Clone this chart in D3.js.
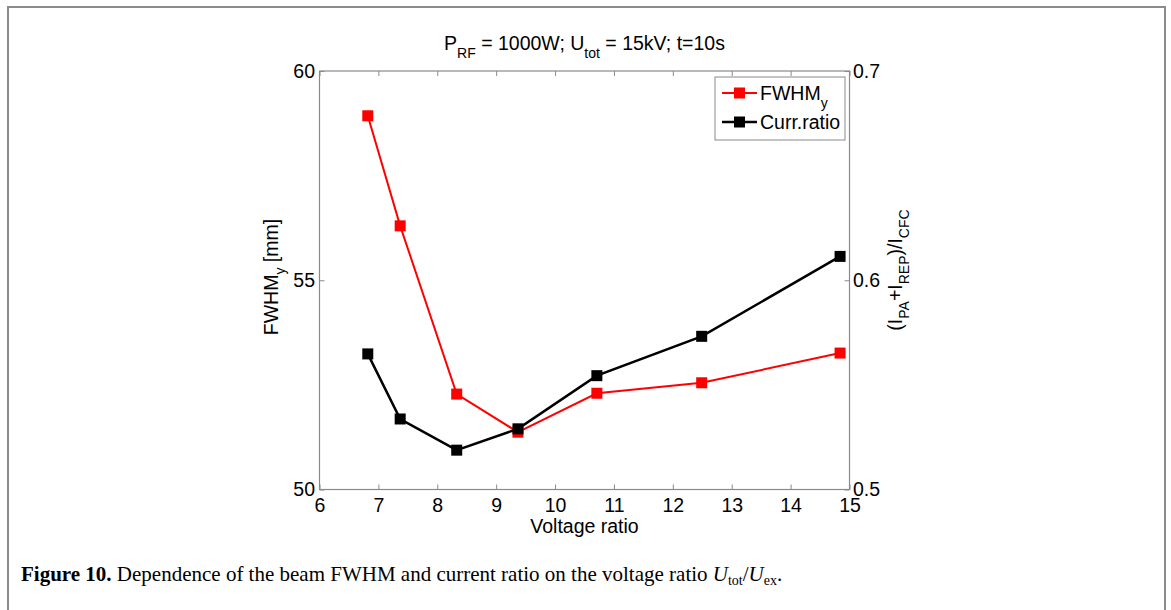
<!DOCTYPE html>
<html>
<head>
<meta charset="utf-8">
<script src="https://cdn.jsdelivr.net/npm/d3@7"></script>
<style>
  body { margin: 0; background: #fff; }
  svg { display: block; }
</style>
</head>
<body>
<div id="chart"></div>
<script>
// data
const voltageRatio = [6.82, 7.37, 8.33, 9.37, 10.71, 12.49, 14.84];
const fwhmY = [58.93, 56.30, 52.28, 51.37, 52.30, 52.55, 53.26];
const currRatio = [0.5648, 0.5337, 0.5188, 0.5290, 0.5544, 0.5732, 0.6114];

const xTicks = [6, 7, 8, 9, 10, 11, 12, 13, 14, 15];
const leftTicks = [50, 55, 60];
const rightTicks = [0.5, 0.6, 0.7];

const width = 1171;
const height = 610;
const plot = { left: 319.5, right: 849.5, top: 71, bottom: 489.5 };
const sans = 'Liberation Sans, Arial, sans-serif';
const serif = 'Liberation Serif, Times New Roman, serif';
const fs = 19.5;   // main font size
const subFs = 14;  // subscript size

const svg = d3.select('#chart').append('svg')
    .attr('width', width)
    .attr('height', height);

// page frame
svg.append('path')
    .attr('d', `M8,${height} V7 H1165 V${height}`)
    .attr('fill', 'none')
    .attr('stroke', '#8c8c8c')
    .attr('stroke-width', 2);

const x = d3.scaleLinear().domain([6, 15]).range([plot.left, plot.right]);
const yL = d3.scaleLinear().domain([50, 60]).range([plot.bottom, plot.top]);
const yR = d3.scaleLinear().domain([0.5, 0.7]).range([plot.bottom, plot.top]);

// axes, ticks pointing inward like matlab
function styleAxis(g) {
    g.select('.domain').remove();
    g.selectAll('line').attr('stroke', '#8a8a8a').attr('stroke-width', 1);
    g.selectAll('text').attr('fill', '#000').attr('font-family', sans).attr('font-size', fs);
}

svg.append('g')
    .attr('transform', `translate(0,${plot.bottom})`)
    .call(d3.axisBottom(x).tickValues(xTicks).tickSize(-5).tickPadding(9).tickFormat(d3.format('d')))
    .call(styleAxis);

svg.append('g')
    .attr('transform', `translate(0,${plot.top})`)
    .call(d3.axisTop(x).tickValues(xTicks).tickSize(-5).tickFormat(''))
    .call(styleAxis);

svg.append('g')
    .attr('transform', `translate(${plot.left},0)`)
    .call(d3.axisLeft(yL).tickValues(leftTicks).tickSize(-5).tickPadding(4.5).tickFormat(d3.format('d')))
    .call(styleAxis);

svg.append('g')
    .attr('transform', `translate(${plot.right},0)`)
    .call(d3.axisRight(yR).tickValues(rightTicks).tickSize(-5).tickPadding(3.5).tickFormat(d3.format('.1f')))
    .call(styleAxis);

// plot box
svg.append('rect')
    .attr('x', plot.left)
    .attr('y', plot.top)
    .attr('width', plot.right - plot.left)
    .attr('height', plot.bottom - plot.top)
    .attr('fill', 'none')
    .attr('stroke', '#8a8a8a')
    .attr('stroke-width', 1.2);

// series
const fwhmData = voltageRatio.map((v, i) => [v, fwhmY[i]]);
const currData = voltageRatio.map((v, i) => [v, currRatio[i]]);

const fwhmLine = d3.line().x((d) => x(d[0])).y((d) => yL(d[1]));
const currLine = d3.line().x((d) => x(d[0])).y((d) => yR(d[1]));

const markerSize = 11;

function drawSeries(data, line, yScale, color, lw) {
    svg.append('path')
        .datum(data)
        .attr('d', line)
        .attr('fill', 'none')
        .attr('stroke', color)
        .attr('stroke-width', lw);
    svg.append('g').selectAll('rect')
        .data(data)
        .enter()
        .append('rect')
        .attr('x', (d) => x(d[0]) - markerSize / 2)
        .attr('y', (d) => yScale(d[1]) - markerSize / 2)
        .attr('width', markerSize)
        .attr('height', markerSize)
        .attr('fill', color);
}

drawSeries(fwhmData, fwhmLine, yL, '#ff0000', 2);
drawSeries(currData, currLine, yR, '#000000', 2.5);

// legend
const legend = svg.append('g');
legend.append('rect')
    .attr('x', 715).attr('y', 77)
    .attr('width', 130).attr('height', 63)
    .attr('fill', '#fff')
    .attr('stroke', '#8a8a8a')
    .attr('stroke-width', 1);

const legendItems = [
    { name: 'FWHM', sub: 'y', color: '#ff0000', y: 93, lw: 2 },
    { name: 'Curr.ratio', sub: null, color: '#000000', y: 122, lw: 2.5 }
];
legendItems.forEach((item) => {
    legend.append('line')
        .attr('x1', 722).attr('x2', 757)
        .attr('y1', item.y).attr('y2', item.y)
        .attr('stroke', item.color)
        .attr('stroke-width', item.lw);
    legend.append('rect')
        .attr('x', 739.5 - markerSize / 2).attr('y', item.y - markerSize / 2)
        .attr('width', markerSize).attr('height', markerSize)
        .attr('fill', item.color);
    const t = legend.append('text')
        .attr('x', 760).attr('y', item.y + 7)
        .attr('font-family', sans).attr('font-size', fs)
        .text(item.name);
    if (item.sub) {
        t.append('tspan').attr('dy', 8).attr('font-size', subFs).text(item.sub);
    }
});

// title
const title = svg.append('text')
    .attr('x', 584.5).attr('y', 50)
    .attr('text-anchor', 'middle')
    .attr('font-family', sans).attr('font-size', fs);
title.append('tspan').text('P');
title.append('tspan').attr('dy', 8).attr('font-size', subFs).text('RF');
title.append('tspan').attr('dy', -8).text(' = 1000W; U');
title.append('tspan').attr('dy', 8).attr('font-size', subFs).text('tot');
title.append('tspan').attr('dy', -8).text(' = 15kV; t=10s');

// x label
svg.append('text')
    .attr('x', (plot.left + plot.right) / 2).attr('y', 533)
    .attr('text-anchor', 'middle')
    .attr('font-family', sans).attr('font-size', fs)
    .text('Voltage ratio');

// left label
const yLab = svg.append('text')
    .attr('transform', `translate(278,277) rotate(-90)`)
    .attr('text-anchor', 'middle')
    .attr('font-family', sans).attr('font-size', fs);
yLab.append('tspan').text('FWHM');
yLab.append('tspan').attr('dy', 7).attr('font-size', subFs).text('y');
yLab.append('tspan').attr('dy', -7).text(' [mm]');

// right label
const rLab = svg.append('text')
    .attr('transform', `translate(902,270) rotate(-90)`)
    .attr('text-anchor', 'middle')
    .attr('font-family', sans).attr('font-size', fs);
rLab.append('tspan').text('(I');
rLab.append('tspan').attr('dy', 7).attr('font-size', subFs).text('PA');
rLab.append('tspan').attr('dy', -7).text('+I');
rLab.append('tspan').attr('dy', 7).attr('font-size', subFs).text('REP');
rLab.append('tspan').attr('dy', -7).text(')/I');
rLab.append('tspan').attr('dy', 7).attr('font-size', subFs).text('CFC');

// caption
const cap = svg.append('text')
    .attr('x', 21).attr('y', 581)
    .attr('font-family', serif).attr('font-size', 21);
cap.append('tspan').attr('font-weight', 'bold').text('Figure 10.');
cap.append('tspan').text(' Dependence of the beam FWHM and current ratio on the voltage ratio ');
cap.append('tspan').attr('font-style', 'italic').text('U');
cap.append('tspan').attr('dy', 4).attr('font-size', 14).text('tot');
cap.append('tspan').attr('dy', -4).text('/');
cap.append('tspan').attr('font-style', 'italic').text('U');
cap.append('tspan').attr('dy', 4).attr('font-size', 14).text('ex');
cap.append('tspan').attr('dy', -4).text('.');
</script>
</body>
</html>
